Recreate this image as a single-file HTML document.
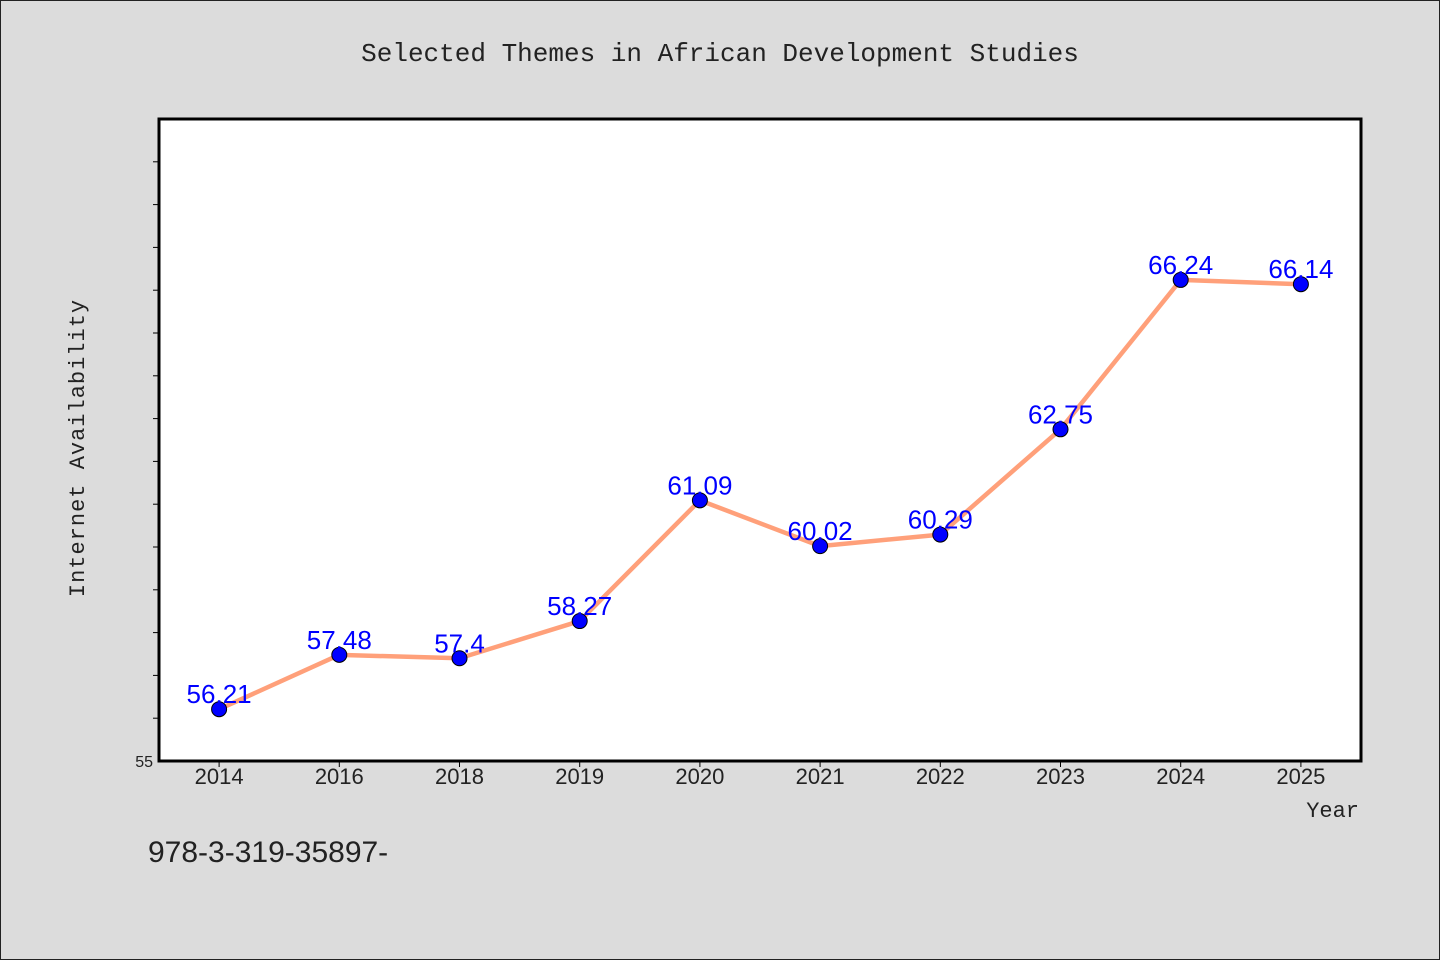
<!DOCTYPE html>
<html><head><meta charset="utf-8"><style>
html,body{margin:0;padding:0;background:#dcdcdc;}
#wrap{position:relative;width:1438px;height:958px;border:1px solid #222;background:#dcdcdc;overflow:hidden;}
svg{position:absolute;left:-1px;top:-1px;}
text{font-family:"Liberation Sans","WenQuanYi Zen Hei",sans-serif;}
</style></head><body>
<div id="wrap">
<svg id="chart" width="1440" height="960">
<text x="720" y="61" text-anchor="middle" font-size="26" fill="#222" style="font-family:'Liberation Mono',monospace">Selected Themes in African Development Studies</text>
<rect x="159" y="119" width="1202" height="642" fill="#fff" stroke="#000" stroke-width="3"/>
<g id="yticks"></g>
<g id="xticks"></g>
<text x="0" y="0" transform="translate(84,448) rotate(-90)" text-anchor="middle" font-size="22" fill="#222" style="font-family:'Liberation Mono',monospace;letter-spacing:1px">Internet Availability</text>
<text x="1359" y="817" text-anchor="end" font-size="22" fill="#222" style="font-family:'Liberation Mono',monospace">Year</text>
<g id="series"></g>
<text x="148" y="862" font-size="30" fill="#222">978-3-319-35897-</text>
</svg>
</div>
<script>
const categories=["2014","2016","2018","2019","2020","2021","2022","2023","2024","2025"];
const values=[56.21,57.48,57.4,58.27,61.09,60.02,60.29,62.75,66.24,66.14];
const yMin=55, yMax=70;
const yTickLabels=["55"];
const NS="http://www.w3.org/2000/svg";
const L=159,R=1361,T=119,B=761;
const band=(R-L)/categories.length;
function xs(i){return L+band*(i+0.5);}
function ys(v){return B-(v-yMin)/(yMax-yMin)*(B-T);}
function mk(tag,attrs,parent){const e=document.createElementNS(NS,tag);for(const k in attrs)e.setAttribute(k,attrs[k]);parent.appendChild(e);return e;}
const yg=document.getElementById('yticks');
for(let v=yMin+1;v<yMax;v++){
  const t=mk('line',{x1:L-6,x2:L,y1:ys(v),y2:ys(v),stroke:'#000','stroke-width':1},yg);
  
  
}
yTickLabels.forEach(s=>{
  const t=mk('text',{x:L-6,y:ys(+s)+6,'text-anchor':'end','font-size':16,fill:'#222'},yg);
  t.textContent=s;
  
  
});
const xg=document.getElementById('xticks');
categories.forEach((c,i)=>{
  const tk=mk('line',{x1:xs(i),x2:xs(i),y1:B,y2:B+6,stroke:'#000','stroke-width':1},xg);
  
  
  const t=mk('text',{x:xs(i),y:B+23,'text-anchor':'middle','font-size':22,fill:'#222'},xg);
  t.textContent=c;
  
  
});
const sg=document.getElementById('series');
const line=mk('polyline',{points:values.map((v,i)=>xs(i)+','+ys(v)).join(' '),fill:'none',stroke:'#ffa07a','stroke-width':4.5,'stroke-linejoin':'round'},sg);


values.forEach((v,i)=>{
  const c=mk('circle',{cx:xs(i),cy:ys(v),r:7.5,fill:'#0000ff',stroke:'#000','stroke-width':1},sg);
  
  
  const t=mk('text',{x:xs(i),y:ys(v)-6,'text-anchor':'middle','font-size':26,fill:'#0000ff'},sg);
  t.textContent=String(v);
  
  
});
</script>
</body></html>
